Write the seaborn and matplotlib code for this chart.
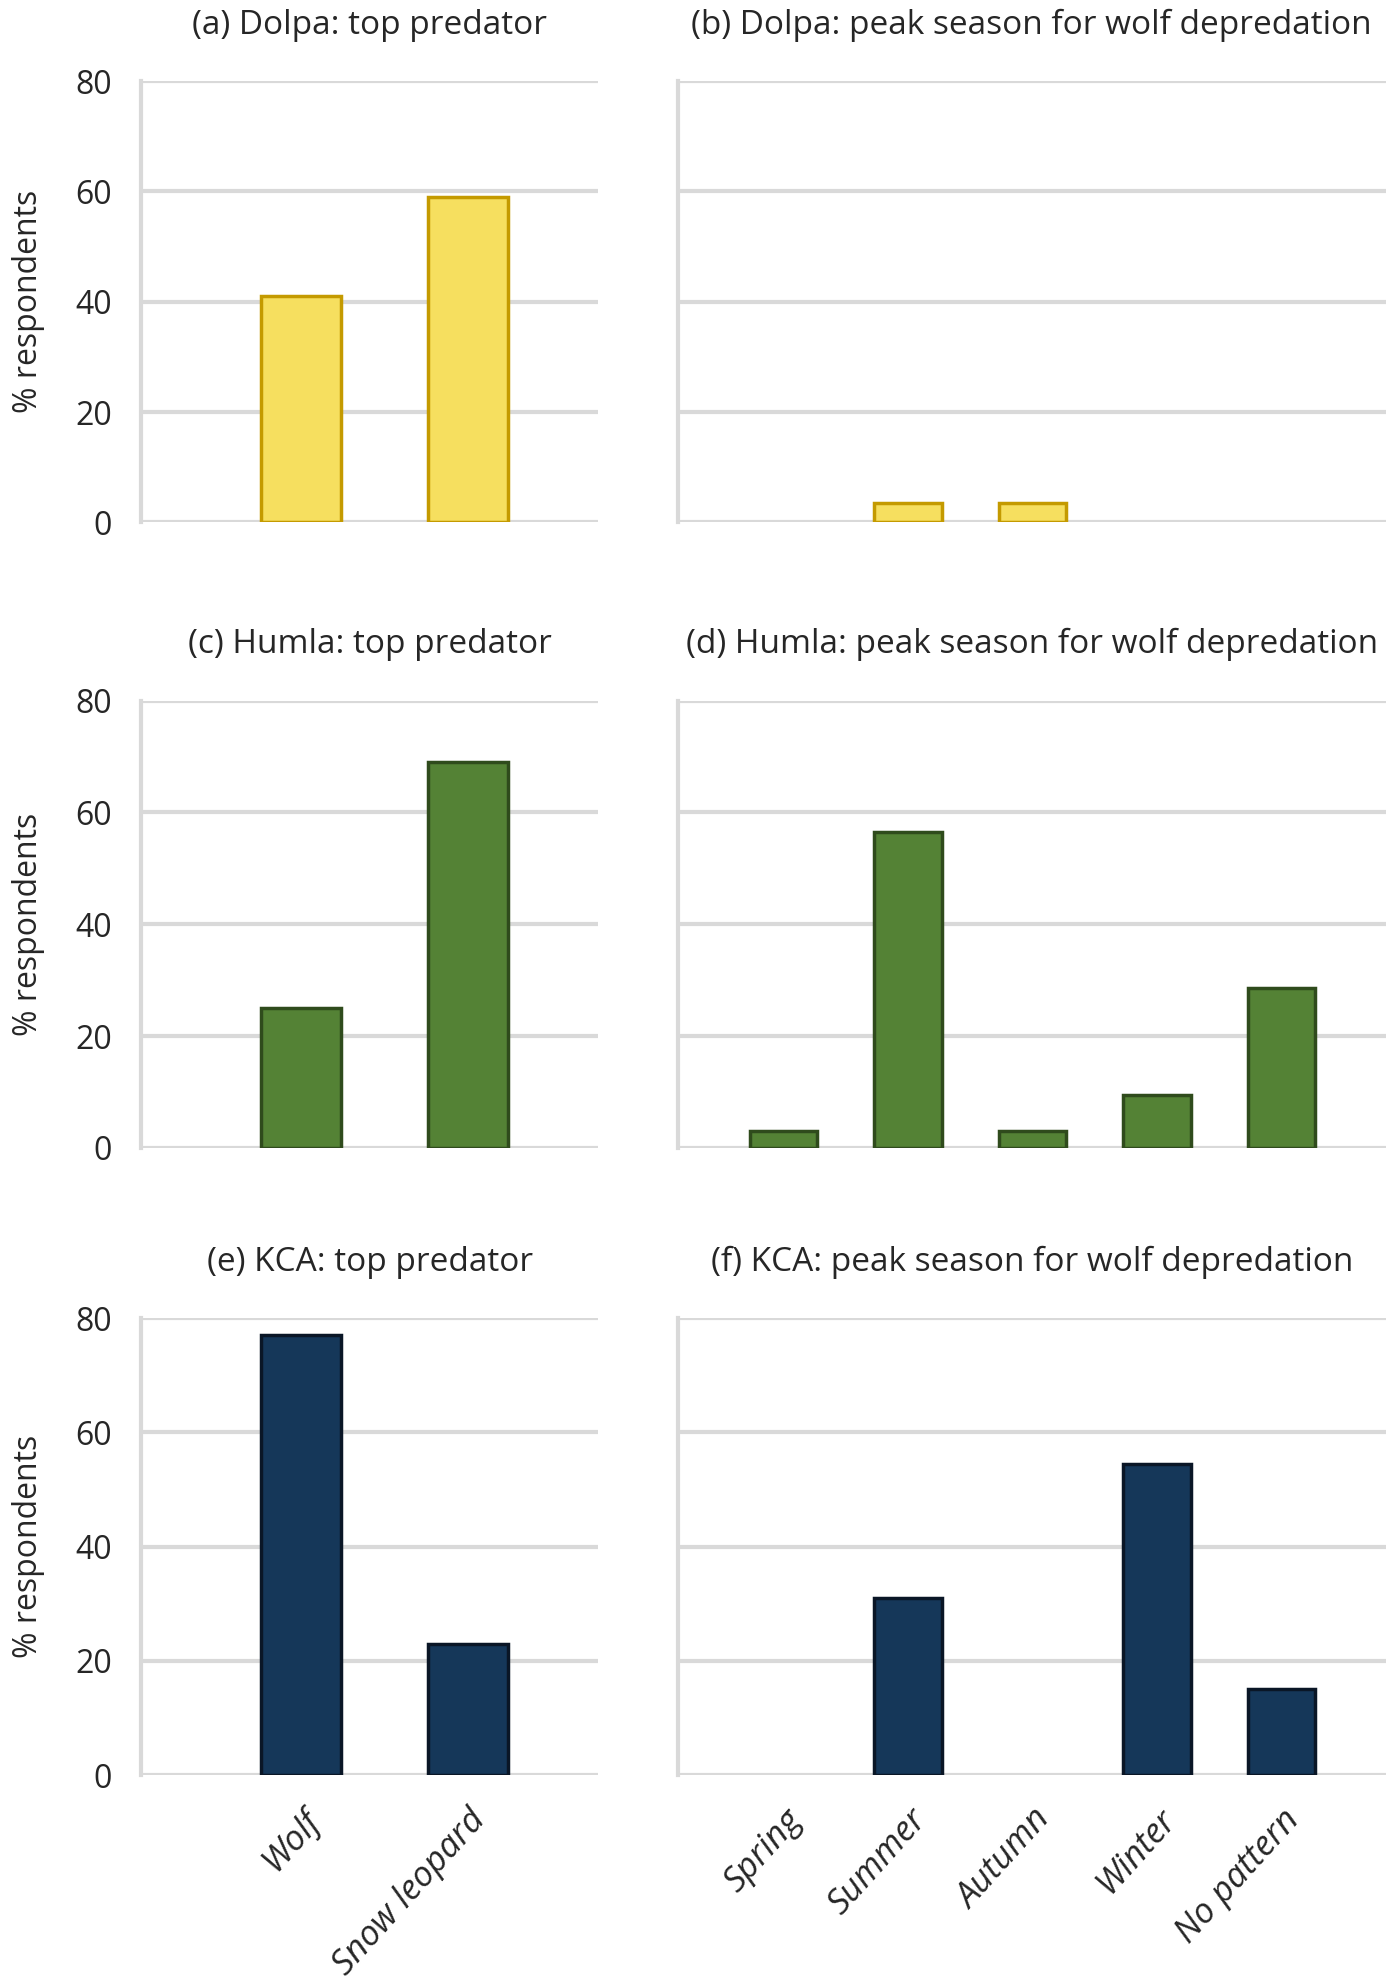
import matplotlib
matplotlib.use('Agg')
import matplotlib.pyplot as plt
import seaborn as sns
import pandas as pd

# data (% respondents)
predators = ["Wolf", "Snow leopard"]
seasons = ["Spring", "Summer", "Autumn", "Winter", "No pattern"]

dolpa_predator = [41, 59]
dolpa_season = [0, 3.5, 3.5, 0, 0]
humla_predator = [25, 69]
humla_season = [3, 56.5, 3, 9.5, 28.5]
kca_predator = [77, 23]
kca_season = [0, 31, 0, 54.5, 15]

titles = [
    "(a) Dolpa: top predator", "(b) Dolpa: peak season for wolf depredation",
    "(c) Humla: top predator", "(d) Humla: peak season for wolf depredation",
    "(e) KCA: top predator", "(f) KCA: peak season for wolf depredation",
]
fills = ["#F6DF5F", "#548235", "#153759"]
edges = ["#C49A00", "#2F4B1C", "#0A1626"]
grid_col = "#D9D9D9"

sns.set_theme(style="white")
plt.rcParams['font.family'] = ['Open Sans', 'DejaVu Sans']

fig = plt.figure(figsize=(14, 19.79), dpi=100)

col_pos = [(0.101, 0.326), (0.484, 0.506)]
row_pos = [(0.736, 0.223), (0.420, 0.226), (0.103, 0.231)]

rows = [(dolpa_predator, dolpa_season), (humla_predator, humla_season), (kca_predator, kca_season)]

for r, (pred_vals, seas_vals) in enumerate(rows):
    for c in range(2):
        left, width = col_pos[c]
        bottom, height = row_pos[r]
        ax = fig.add_axes([left, bottom, width, height])
        if c == 0:
            df = pd.DataFrame({"cat": predators, "val": pred_vals})
            bw = 0.48
        else:
            df = pd.DataFrame({"cat": seasons, "val": seas_vals})
            bw = 0.54
        sns.barplot(data=df, x="cat", y="val", color=fills[r], edgecolor=edges[r],
                    linewidth=2.5, width=bw, saturation=1, ax=ax, zorder=3)
        # zero-height bars leave no trace in the original
        for p in ax.patches:
            if p.get_height() == 0:
                p.set_visible(False)

        if c == 0:
            ax.set_xlim(-0.96, 1.78)
        else:
            ax.set_xlim(-0.85, 4.84)
        ax.set_ylim(0, 80)
        ax.set_yticks([0, 20, 40, 60, 80])
        ax.yaxis.grid(True, color=grid_col, linewidth=3)
        ax.set_axisbelow(True)
        for s in ["top", "right", "bottom"]:
            ax.spines[s].set_visible(False)
        ax.spines["left"].set_color(grid_col)
        ax.spines["left"].set_linewidth(3)
        ax.tick_params(axis="both", length=0)
        ax.set_xlabel("")

        if c == 0:
            ax.set_ylabel("% respondents", fontsize=23, labelpad=22)
            ax.tick_params(axis="y", pad=21)
            for t in ax.get_yticklabels():
                t.set_fontsize(23)
        else:
            ax.set_ylabel("")
            ax.set_yticklabels([])

        if r == 2:
            ax.tick_params(axis="x", pad=20)
            ax.set_xticks(range(len(df)))
            ax.set_xticklabels(df["cat"], rotation=48, ha="right", va="top",
                               rotation_mode="anchor", fontstyle="italic", fontsize=25)
        else:
            ax.set_xticklabels([])

        ax.set_title(titles[r * 2 + c], fontsize=24, pad=34)

plt.savefig("out.png", dpi=100)
plt.close()
